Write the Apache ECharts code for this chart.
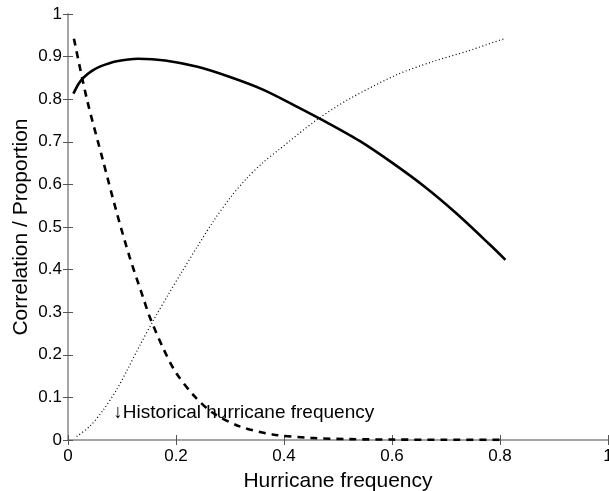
<!DOCTYPE html>
<html>
<head>
<meta charset="utf-8">
<script src="https://cdn.jsdelivr.net/npm/echarts@6/dist/echarts.min.js"></script>
<style>
  html, body { margin: 0; padding: 0; background: #fff; }
  #chart { width: 609px; height: 491px; }
</style>
</head>
<body>
<div id="chart"></div>
<script>
// Correlation (solid)
const corrX = [0.01, 0.02, 0.03, 0.045, 0.06, 0.09, 0.13, 0.18, 0.24, 0.30, 0.36, 0.42, 0.48, 0.54, 0.60, 0.66, 0.72, 0.78, 0.81];
const corrY = [0.813, 0.837, 0.852, 0.867, 0.877, 0.889, 0.895, 0.891, 0.876, 0.852, 0.823, 0.785, 0.745, 0.702, 0.651, 0.595, 0.531, 0.460, 0.423];

// Proportion, decreasing (dashed)
const dashX = [0.011, 0.035, 0.065, 0.09, 0.114, 0.139, 0.151, 0.176, 0.2, 0.234, 0.268, 0.318, 0.379, 0.45, 0.52, 0.6, 0.7, 0.81];
const dashY = [0.942, 0.80, 0.655, 0.535, 0.43, 0.335, 0.29, 0.216, 0.158, 0.103, 0.064, 0.032, 0.013, 0.005, 0.002, 0.001, 0.0005, 0.0003];

// Proportion, increasing (dotted)
const dotX = [0.016, 0.041, 0.065, 0.09, 0.11, 0.133, 0.16, 0.185, 0.21, 0.24, 0.27, 0.30, 0.33, 0.36, 0.39, 0.46, 0.52, 0.61, 0.675, 0.74, 0.81];
const dotY = [0.008, 0.033, 0.07, 0.118, 0.165, 0.222, 0.285, 0.34, 0.393, 0.455, 0.515, 0.568, 0.613, 0.65, 0.681, 0.751, 0.80, 0.858, 0.888, 0.913, 0.943];

// Tick labels
const xTickLabels = ['0', '0.2', '0.4', '0.6', '0.8', '1'];
const yTickLabels = ['0', '0.1', '0.2', '0.3', '0.4', '0.5', '0.6', '0.7', '0.8', '0.9', '1'];

// Annotation
const noteText = '\u2193Historical hurricane frequency';
const notePos = [0.084, 0.063];

const pairs = (xs, ys) => xs.map((x, i) => [x, ys[i]]);
const FONT = '"Liberation Sans", Arial, Helvetica, sans-serif';
const AXIS_GRAY = '#a0a0a0';

const chart = echarts.init(document.getElementById('chart'), null, { renderer: 'canvas' });

const baseAxis = {
  min: 0, max: 1,
  axisLine: { show: true, lineStyle: { color: AXIS_GRAY, width: 1.5 } },
  axisTick: { show: true, inside: true, length: 5, lineStyle: { color: '#555', width: 1 } },
  splitLine: { show: false }
};

chart.setOption({
  animation: false,
  backgroundColor: '#fff',
  grid: { left: 68, right: 1, top: 14, bottom: 51, containLabel: false, outerBoundsMode: 'none' },
  xAxis: [
    Object.assign({}, baseAxis, {
      type: 'value', position: 'bottom', interval: 0.2,
      name: 'Hurricane frequency', nameLocation: 'middle', nameGap: 31,
      nameMoveOverlap: false,
      nameTextStyle: { fontFamily: FONT, fontSize: 21, color: '#000' },
      axisLabel: {
        fontFamily: FONT, fontSize: 17, color: '#000', margin: 8,
        formatter: v => xTickLabels[Math.round(v / 0.2)]
      }
    }),
    Object.assign({}, baseAxis, {
      type: 'value', position: 'top', interval: 0.2,
      axisLabel: { show: false }
    })
  ],
  yAxis: [
    Object.assign({}, baseAxis, {
      type: 'value', position: 'left', interval: 0.1,
      name: 'Correlation / Proportion', nameLocation: 'middle', nameGap: 36,
      nameMoveOverlap: false,
      nameTextStyle: { fontFamily: FONT, fontSize: 21, color: '#000' },
      axisLabel: {
        fontFamily: FONT, fontSize: 17, color: '#000', margin: 6,
        formatter: v => yTickLabels[Math.round(v / 0.1)]
      }
    }),
    Object.assign({}, baseAxis, {
      type: 'value', position: 'right', interval: 0.1,
      axisLabel: { show: false }
    })
  ],
  series: [
    {
      type: 'line', name: 'Correlation', data: pairs(corrX, corrY),
      showSymbol: false, smooth: 0.3,
      lineStyle: { color: '#000', width: 2.6 }
    },
    {
      type: 'line', name: 'Decreasing proportion', data: pairs(dashX, dashY),
      showSymbol: false, smooth: 0.3,
      lineStyle: { color: '#000', width: 2.6, type: [7, 6] }
    },
    {
      type: 'line', name: 'Increasing proportion', data: pairs(dotX, dotY),
      showSymbol: false, smooth: 0.3,
      lineStyle: { color: '#000', width: 1.2, type: [1, 2.5] }
    },
    {
      type: 'scatter', data: [notePos], symbolSize: 0, silent: true, z: 5,
      itemStyle: { color: '#000', opacity: 1 },
      label: {
        show: true, position: 'right', distance: 0,
        formatter: noteText, opacity: 1,
        fontFamily: FONT, fontSize: 19, color: '#000'
      }
    }
  ]
});
</script>
</body>
</html>
